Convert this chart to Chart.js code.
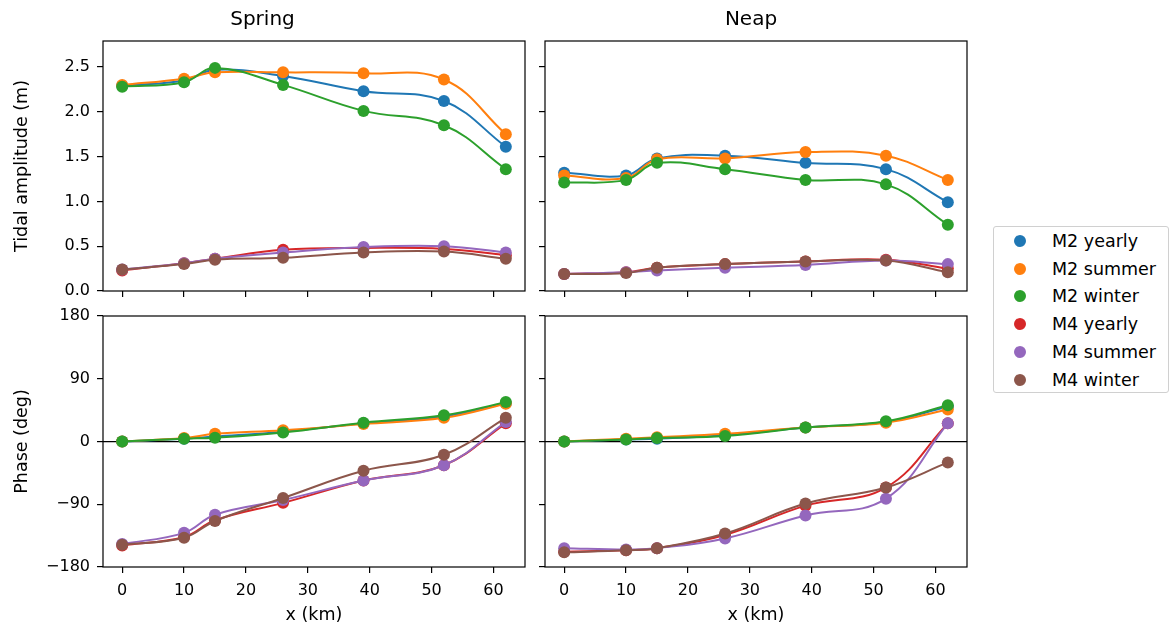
<!DOCTYPE html>
<html>
<head>
<meta charset="utf-8">
<title>Tidal amplitude and phase</title>
<script src="https://cdn.jsdelivr.net/npm/chart.js@4.4.0/dist/chart.umd.min.js"></script>
<style>
    body {
        margin: 0;
        width: 1172px;
        height: 625px;
        position: relative;
        overflow: hidden;
        background: #fff;
        font-family: 'DejaVu Sans', sans-serif;
    }
    canvas { position: absolute; }
    #legend {
        position: absolute;
        left: 993px;
        top: 226px;
        width: 176px;
        height: 167px;
        box-sizing: border-box;
        border: 1px solid #d0d0d0;
        border-radius: 3px;
        font-size: 17.5px;
        color: #000;
    }
    #legend .row {
        display: flex;
        align-items: center;
        height: 27.75px;
    }
    #legend .dot {
        width: 12px;
        height: 12px;
        border-radius: 50%;
        margin-left: 20px;
        margin-right: 26px;
    }
</style>
</head>
<body>
<canvas id="spring-amp" width="535" height="298" style="left:0;top:0"></canvas>
<canvas id="neap-amp" width="442" height="298" style="left:535px;top:0"></canvas>
<canvas id="spring-phase" width="535" height="325" style="left:0;top:300px"></canvas>
<canvas id="neap-phase" width="442" height="325" style="left:535px;top:300px"></canvas>
<div id="legend"></div>

<script>
// Stations along the estuary (km)
const xKm = [0, 10, 15, 26, 39, 52, 62];
const xTicks = [0, 10, 20, 30, 40, 50, 60];

const seriesLabels = ['M2 yearly', 'M2 summer', 'M2 winter', 'M4 yearly', 'M4 summer', 'M4 winter'];
const seriesColors = ['#1f77b4', '#ff7f0e', '#2ca02c', '#d62728', '#9467bd', '#8c564b'];

const ampTicks = [0, 0.5, 1.0, 1.5, 2.0, 2.5];
const phaseTicks = [-180, -90, 0, 90, 180];

// Amplitude (m), one row per series in seriesLabels order
const springAmp = [
    [2.29, 2.35, 2.47, 2.40, 2.23, 2.12, 1.61],
    [2.30, 2.37, 2.44, 2.44, 2.43, 2.36, 1.75],
    [2.28, 2.33, 2.49, 2.30, 2.01, 1.85, 1.36],
    [0.23, 0.31, 0.36, 0.46, 0.48, 0.47, 0.40],
    [0.24, 0.31, 0.36, 0.43, 0.49, 0.50, 0.43],
    [0.24, 0.30, 0.35, 0.37, 0.43, 0.44, 0.36]
];
const neapAmp = [
    [1.32, 1.29, 1.48, 1.51, 1.43, 1.36, 0.99],
    [1.29, 1.26, 1.47, 1.48, 1.55, 1.51, 1.24],
    [1.21, 1.24, 1.43, 1.36, 1.24, 1.19, 0.74],
    [0.19, 0.21, 0.26, 0.30, 0.33, 0.35, 0.25],
    [0.19, 0.21, 0.23, 0.26, 0.29, 0.34, 0.30],
    [0.19, 0.20, 0.26, 0.30, 0.33, 0.34, 0.21]
];

// Phase (deg)
const springPhase = [
    [0, 4, 7, 14, 26, 36, 55],
    [0, 5, 11, 16, 25, 34, 54],
    [0, 4, 5.5, 13, 27, 37.5, 56.5],
    [-149, -137, -113, -88, -56, -34, 26],
    [-147, -131, -105, -84, -56, -34, 28],
    [-148, -138, -114, -81, -42, -19, 34]
];
const neapPhase = [
    [0, 3, 4, 9, 20, 28, 50],
    [0, 4, 6, 11, 20, 27, 46],
    [0, 3, 5, 8, 20, 29, 52],
    [-158, -156, -153, -134, -92, -66, 26],
    [-153, -155, -153, -139, -106, -82, 26],
    [-159, -156, -153, -132, -89, -66, -30]
];

const FONT = 'DejaVu Sans';
Chart.defaults.font.family = FONT;
Chart.defaults.color = '#000';

// Box around each plot area, like axes spines
const framePlugin = {
    id: 'frame',
    afterDraw(chart) {
        const { ctx, chartArea: a } = chart;
        ctx.save();
        ctx.strokeStyle = '#000';
        ctx.lineWidth = 1.2;
        ctx.strokeRect(a.left, a.top, a.right - a.left, a.bottom - a.top);
        ctx.restore();
    }
};

function makeDatasets(rows) {
    return rows.map((row, i) => ({
        label: seriesLabels[i],
        data: xKm.map((x, j) => ({ x: x, y: row[j] })),
        borderColor: seriesColors[i],
        backgroundColor: seriesColors[i],
        borderWidth: 2,
        pointRadius: 6,
        pointBorderWidth: 0,
        tension: 0.4,
        order: rows.length - i,
        clip: false
    }));
}

function makePanel(id, cfg) {
    const tickFont = { family: FONT, size: 16 };
    const labelFont = { family: FONT, size: 17.5, lineHeight: 1.1 };

    return new Chart(document.getElementById(id), {
        type: 'line',
        data: { datasets: makeDatasets(cfg.rows) },
        plugins: [framePlugin],
        options: {
            responsive: false,
            animation: false,
            events: [],
            layout: { padding: { top: cfg.padTop || 0, right: 10, left: 0, bottom: 0 } },
            plugins: {
                legend: { display: false },
                tooltip: { enabled: false },
                title: {
                    display: !!cfg.title,
                    text: cfg.title,
                    color: '#000',
                    font: { family: FONT, size: 20, weight: 'normal' },
                    padding: { top: 8, bottom: 9 }
                }
            },
            scales: {
                x: {
                    type: 'linear',
                    min: -3.1,
                    max: 65.1,
                    afterBuildTicks: s => { s.ticks = xTicks.map(v => ({ value: v })); },
                    // fixed axis size, no extra room reserved for edge labels
                    afterFit: s => {
                        s.height = cfg.bottomHeight;
                        s.paddingLeft = 0;
                        s.paddingRight = 0;
                    },
                    border: { display: false },
                    grid: {
                        drawOnChartArea: false,
                        drawTicks: true,
                        tickLength: 6,
                        color: '#000',
                        lineWidth: 1.2
                    },
                    ticks: {
                        display: cfg.showX,
                        color: '#000',
                        font: tickFont,
                        padding: 8,
                        maxRotation: 0
                    },
                    title: {
                        display: cfg.showX,
                        text: 'x (km)',
                        color: '#000',
                        font: labelFont,
                        padding: { top: 0, bottom: 0 }
                    }
                },
                y: {
                    min: cfg.yMin,
                    max: cfg.yMax,
                    afterBuildTicks: s => { s.ticks = cfg.yTicks.map(v => ({ value: v })); },
                    afterFit: s => {
                        s.width = cfg.leftWidth;
                        s.paddingTop = 0;
                        s.paddingBottom = 0;
                    },
                    border: { display: false },
                    grid: {
                        drawOnChartArea: !!cfg.zeroLine,
                        drawTicks: true,
                        tickLength: 6,
                        color: c => (cfg.zeroLine && c.tick && c.tick.value === 0) ? '#000' : 'rgba(0,0,0,0)',
                        tickColor: '#000',
                        lineWidth: 1.2
                    },
                    ticks: {
                        display: cfg.showY,
                        color: '#000',
                        font: tickFont,
                        padding: 7,
                        callback: cfg.yFormat
                    },
                    title: {
                        display: cfg.showY,
                        text: cfg.yTitle,
                        color: '#000',
                        font: labelFont,
                        padding: { top: 12.5, bottom: 0 }
                    }
                }
            }
        }
    });
}

const ampFormat = v => v.toFixed(1);
const phaseFormat = v => String(v).replace('-', '\u2212');

makePanel('spring-amp', {
    rows: springAmp, title: 'Spring',
    yMin: 0, yMax: 2.79, yTicks: ampTicks, yFormat: ampFormat, yTitle: 'Tidal amplitude (m)',
    showY: true, showX: false, leftWidth: 103, bottomHeight: 7
});
makePanel('neap-amp', {
    rows: neapAmp, title: 'Neap',
    yMin: 0, yMax: 2.79, yTicks: ampTicks, yFormat: ampFormat,
    showY: false, showX: false, leftWidth: 10, bottomHeight: 7
});
makePanel('spring-phase', {
    rows: springPhase, padTop: 16, zeroLine: true,
    yMin: -180, yMax: 180, yTicks: phaseTicks, yFormat: phaseFormat, yTitle: 'Phase (deg)',
    showY: true, showX: true, leftWidth: 103, bottomHeight: 58
});
makePanel('neap-phase', {
    rows: neapPhase, padTop: 16, zeroLine: true,
    yMin: -180, yMax: 180, yTicks: phaseTicks, yFormat: phaseFormat,
    showY: false, showX: true, leftWidth: 10, bottomHeight: 58
});

// Shared legend for all four panels
const legendEl = document.getElementById('legend');
seriesLabels.forEach((label, i) => {
    const row = document.createElement('div');
    row.className = 'row';
    row.innerHTML = `<span class="dot" style="background:${seriesColors[i]}"></span><span>${label}</span>`;
    legendEl.appendChild(row);
});
</script>
</body>
</html>
